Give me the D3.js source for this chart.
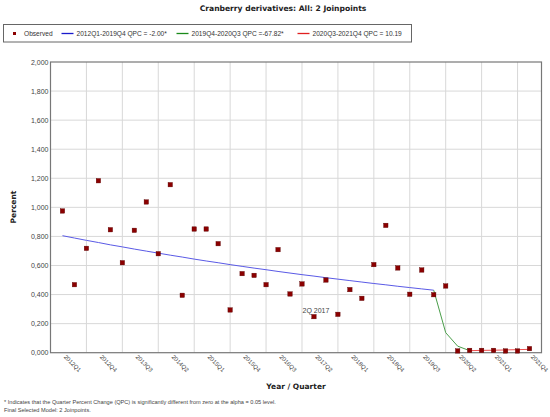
<!DOCTYPE html>
<html>
<head>
<meta charset="utf-8">
<script src="https://cdn.jsdelivr.net/npm/d3@7"></script>
<style>
  body { margin: 0; background: #fff; }
  text { font-family: "Liberation Sans", Arial, sans-serif; fill: #333; }
</style>
</head>
<body>
<div id="chart"></div>
<script>
// quarters 2012Q1 .. 2021Q4
var years = [2012, 2013, 2014, 2015, 2016, 2017, 2018, 2019, 2020, 2021];
var quarters = [];
years.forEach(function (y) { ["Q1", "Q2", "Q3", "Q4"].forEach(function (q) { quarters.push(y + q); }); });

// observed percent per quarter
var observed = [0.975, 0.468, 0.718, 1.183, 0.846, 0.619, 0.842, 1.037, 0.681, 1.156,
                0.395, 0.851, 0.851, 0.750, 0.294, 0.544, 0.532, 0.468, 0.709, 0.404,
                0.473, 0.248, 0.500, 0.264, 0.434, 0.374, 0.606, 0.876, 0.583, 0.402,
                0.569, 0.399, 0.459, 0.012, 0.016, 0.016, 0.016, 0.012, 0.012, 0.028];

// modelled values
var blueFit = [0.805, 0.789, 0.773, 0.758, 0.742, 0.728, 0.713, 0.699, 0.685, 0.671,
               0.658, 0.644, 0.631, 0.619, 0.606, 0.594, 0.582, 0.571, 0.559, 0.548,
               0.537, 0.527, 0.516, 0.506, 0.496, 0.486, 0.476, 0.467, 0.457, 0.448,
               0.439, 0.430];
var greenFit = [0.430, 0.138, 0.045, 0.014];
var redFit = [0.014, 0.016, 0.017, 0.019, 0.021, 0.023];

var xTickIdx = [0, 3, 6, 9, 12, 15, 18, 21, 24, 27, 30, 33, 36, 39];
var xGridIdx = [2, 5, 8, 11, 14, 17, 20, 23, 26, 29, 32, 35, 38];
var yTicks = [0, 0.2, 0.4, 0.6, 0.8, 1.0, 1.2, 1.4, 1.6, 1.8, 2.0];

var legendItems = [
  { label: "Observed", type: "dot", color: "#8b0000" },
  { label: "2012Q1-2019Q4 QPC = -2.00*", type: "line", color: "#1a1acc" },
  { label: "2019Q4-2020Q3 QPC =-67.82*", type: "line", color: "#1a8a1a" },
  { label: "2020Q3-2021Q4 QPC = 10.19", type: "line", color: "#e02020" }
];

var width = 550, height = 417;
var svg = d3.select("#chart").append("svg")
  .attr("width", width)
  .attr("height", height);

var x = d3.scaleLinear().domain([-1, 40]).range([50.5, 541.5]);
var y = d3.scaleLinear().domain([0, 2]).range([352.7, 62]);

// grid
var grid = svg.append("g").attr("class", "grid");
grid.selectAll("line.h")
  .data(yTicks.slice(1, -1))
  .enter().append("line")
  .attr("x1", x(-1)).attr("x2", x(40))
  .attr("y1", (d) => y(d)).attr("y2", (d) => y(d))
  .style("stroke", "#d8d8d8").style("stroke-width", "1px");
grid.selectAll("line.v")
  .data(xGridIdx)
  .enter().append("line")
  .attr("x1", (d) => x(d)).attr("x2", (d) => x(d))
  .attr("y1", y(0)).attr("y2", y(2))
  .style("stroke", "#d8d8d8").style("stroke-width", "1px");

// frame
svg.append("rect")
  .attr("x", x(-1)).attr("y", y(2))
  .attr("width", x(40) - x(-1)).attr("height", y(0) - y(2))
  .style("fill", "none").style("stroke", "#777").style("stroke-width", "1.2px");

// y axis
var yAxis = svg.append("g")
  .attr("transform", "translate(" + x(-1) + ",0)")
  .call(d3.axisLeft(y).tickValues(yTicks).tickSize(0).tickPadding(2)
    .tickFormat((d) => d3.format(".3f")(d).replace(".", ",")));
yAxis.select(".domain").remove();
yAxis.selectAll("text").style("font-size", "7px").style("fill", "#444")
  .style("font-family", "Liberation Sans, Arial, sans-serif");

// x axis
var xAxis = svg.append("g")
  .attr("transform", "translate(0," + y(0) + ")")
  .call(d3.axisBottom(x).tickValues(xTickIdx).tickSize(0)
    .tickFormat((d) => quarters[d]));
xAxis.select(".domain").remove();
xAxis.selectAll("text")
  .style("font-size", "6px").style("fill", "#444")
  .style("font-family", "Liberation Sans, Arial, sans-serif")
  .attr("text-anchor", "start")
  .attr("y", 0).attr("dy", 0)
  .attr("transform", "translate(0.5,4.5) rotate(45)");

// trend lines
var line = d3.line().x((d) => x(d.i)).y((d) => y(d.v));
function seg(vals, start) { return vals.map((v, k) => ({ i: start + k, v: v })); }

svg.append("path").datum(seg(blueFit, 0)).attr("d", line)
  .style("fill", "none").style("stroke", "#5a5ae6").style("stroke-width", "1px");
svg.append("path").datum(seg(greenFit, 31)).attr("d", line)
  .style("fill", "none").style("stroke", "#4a9e4a").style("stroke-width", "1px");
svg.append("path").datum(seg(redFit, 34)).attr("d", line)
  .style("fill", "none").style("stroke", "#ee5050").style("stroke-width", "1px");

// observed points
svg.append("g").selectAll("rect")
  .data(observed)
  .enter().append("rect")
  .attr("x", (d, i) => x(i) - 2.2)
  .attr("y", (d) => y(d) - 2.2)
  .attr("width", 4.4).attr("height", 4.4)
  .style("fill", "#8b0000").style("stroke", "#5a0000").style("stroke-width", "0.4px");

// annotation
svg.append("text")
  .attr("x", x(20) + 0.5).attr("y", y(observed[21]) - 3.5)
  .text("2Q 2017")
  .style("font-size", "7px").style("fill", "#444");

// title
svg.append("text")
  .attr("x", 283).attr("y", 11)
  .attr("text-anchor", "middle")
  .text("Cranberry derivatives: All: 2 Joinpoints")
  .style("font-family", "DejaVu Sans, Verdana, sans-serif")
  .style("font-weight", "bold").style("font-size", "7.6px").style("fill", "#222");

// legend
var lg = svg.append("g");
lg.append("rect")
  .attr("x", 3.5).attr("y", 24.5).attr("width", 408).attr("height", 17.5)
  .style("fill", "#fff").style("stroke", "#666").style("stroke-width", "1px");
var legendX = [13, 61.5, 176.5, 297.5];
legendItems.forEach(function (d, k) {
  var lx = legendX[k];
  if (d.type === "dot") {
    lg.append("rect").attr("x", lx).attr("y", 32).attr("width", 3).attr("height", 3)
      .style("fill", d.color);
    lg.append("text").attr("x", lx + 11).attr("y", 36).text(d.label)
      .style("font-size", "6.6px").style("fill", "#333");
  } else {
    lg.append("line").attr("x1", lx).attr("x2", lx + 12).attr("y1", 33.5).attr("y2", 33.5)
      .style("stroke", d.color).style("stroke-width", "1.3px");
    lg.append("text").attr("x", lx + 15).attr("y", 36).text(d.label)
      .style("font-size", "6.6px").style("fill", "#333");
  }
});

// axis titles
svg.append("text")
  .attr("transform", "translate(16,207) rotate(-90)")
  .attr("text-anchor", "middle")
  .text("Percent")
  .style("font-family", "DejaVu Sans, Verdana, sans-serif")
  .style("font-weight", "bold").style("font-size", "7.5px").style("fill", "#222");
svg.append("text")
  .attr("x", 296).attr("y", 388.5)
  .attr("text-anchor", "middle")
  .text("Year / Quarter")
  .style("font-family", "DejaVu Sans, Verdana, sans-serif")
  .style("font-weight", "bold").style("font-size", "7.5px").style("fill", "#222");

// footnote
svg.append("text").attr("x", 4).attr("y", 404)
  .text("* Indicates that the Quarter Percent Change (QPC) is significantly different from zero at the alpha = 0.05 level.")
  .style("font-size", "5.6px").style("fill", "#444");
svg.append("text").attr("x", 4).attr("y", 411.5)
  .text("Final Selected Model: 2 Joinpoints.")
  .style("font-size", "5.6px").style("fill", "#444");
</script>
</body>
</html>
